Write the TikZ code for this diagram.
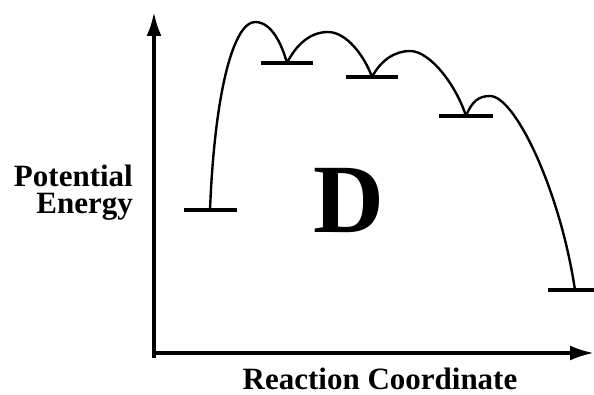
\documentclass[tikz,border=0pt]{standalone}
\usepackage{fontspec}
\setmainfont{Liberation Serif}
\usetikzlibrary{arrows.meta}
\begin{document}
\begin{tikzpicture}[x=1pt,y=-1pt,
  axis/.style={line width=3.4pt,-{Latex[length=24pt,width=15pt]}},
  level/.style={line width=3.2pt},
  path/.style={line width=2.4pt,line join=round},
  lbl/.style={font=\fontsize{31}{27}\selectfont\bfseries,inner sep=0pt}]
\useasboundingbox (0,0) rectangle (594,395);
% axes
\coordinate (o) at (154,358);
\coordinate (ytop) at (154,12);
\coordinate (xo) at (153,353);
\coordinate (xend) at (594,353);
\draw[axis] (o) -- (ytop);
\draw[axis] (xo) -- (xend);
% levels
\coordinate (r1) at (184,210); \coordinate (r2) at (237,210);
\coordinate (a1) at (261,63);  \coordinate (a2) at (313,63);
\coordinate (b1) at (346,77);  \coordinate (b2) at (398,77);
\coordinate (c1) at (439,116); \coordinate (c2) at (493,116);
\coordinate (p1) at (548,290); \coordinate (p2) at (594,290);
\foreach \u/\v in {r1/r2,a1/a2,b1/b2,c1/c2,p1/p2}
  \draw[level] (\u) -- (\v);
% reaction path
\coordinate (s) at (210,210);
\coordinate (k1) at (255,22);
\coordinate (m1) at (287,63);
\coordinate (k2) at (328,32);
\coordinate (m2) at (372,77);
\coordinate (k3) at (410,51);
\coordinate (m3) at (466,116);
\coordinate (k4) at (490,96);
\coordinate (e) at (575,290);
\draw[path] (s) .. controls (215,85) and (235,22) .. (k1)
  .. controls (272,22) and (282,45) .. (m1)
  .. controls (296,45) and (310,32) .. (k2)
  .. controls (346,32) and (364,55) .. (m2)
  .. controls (381,60) and (395,51) .. (k3)
  .. controls (430,51) and (456,85) .. (m3)
  .. controls (472,101) and (479,96) .. (k4)
  .. controls (515,96) and (560,190) .. (e);
% labels
\node[lbl,anchor=north east,align=right] (pe) at (133,165) {Potential\\Energy};
\node[lbl,anchor=base] (rc) at (380,389) {Reaction Coordinate};
\node[inner sep=0pt,font=\fontsize{98}{98}\selectfont\bfseries,anchor=base] (D) at (349,233) {D};
\end{tikzpicture}
\end{document}
